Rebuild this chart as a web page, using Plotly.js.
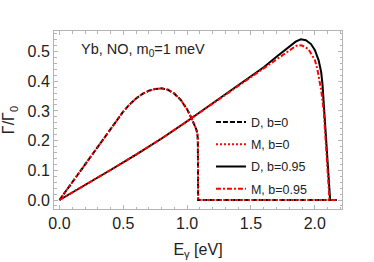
<!DOCTYPE html>
<html>
<head>
<meta charset="utf-8">
<script src="https://cdn.plot.ly/plotly-3.0.1.min.js"></script>
<style>html,body{margin:0;padding:0;background:#fff;}#chart{width:374px;height:262px;}</style>
</head>
<body>
<div id="chart"></div>
<script>
// b = 0 curves (D and M coincide)
const xB0 = [0, 0.05, 0.1, 0.2, 0.3, 0.4, 0.5, 0.55, 0.6, 0.65, 0.7, 0.75, 0.8, 0.85, 0.9, 0.95, 1.0, 1.03, 1.05, 1.07, 1.08, 1.084, 1.085, 1.086, 1.3, 1.5, 1.7, 1.9, 2.1, 2.17];
const yD_b0 = [0, 0.03, 0.06, 0.12, 0.18, 0.24, 0.298, 0.322, 0.342, 0.357, 0.368, 0.374, 0.376, 0.371, 0.358, 0.337, 0.305, 0.279, 0.26, 0.24, 0.225, 0.2, 0.1, 0, 0, 0, 0, 0, 0, 0];
const yM_b0 = [0, 0.03, 0.06, 0.12, 0.18, 0.24, 0.298, 0.322, 0.342, 0.357, 0.368, 0.374, 0.376, 0.371, 0.358, 0.337, 0.305, 0.279, 0.26, 0.24, 0.225, 0.2, 0.1, 0, 0, 0, 0, 0, 0, 0];

// b = 0.95 curves
const xD_b95 = [0, 0.2, 0.4, 0.6, 0.8, 1.0, 1.2, 1.4, 1.5, 1.6, 1.7, 1.75, 1.8, 1.85, 1.89, 1.93, 1.97, 2.0, 2.03, 2.05, 2.06, 2.07, 2.08, 2.09, 2.1, 2.11, 2.12, 2.17];
const yD_b95 = [0, 0.05, 0.101, 0.153, 0.207, 0.265, 0.325, 0.385, 0.415, 0.447, 0.482, 0.5, 0.518, 0.533, 0.541, 0.538, 0.525, 0.505, 0.47, 0.43, 0.39, 0.32, 0.26, 0.19, 0.12, 0.06, 0, 0];
const xM_b95 = [0, 0.2, 0.4, 0.6, 0.8, 1.0, 1.2, 1.4, 1.5, 1.6, 1.7, 1.75, 1.8, 1.85, 1.87, 1.9, 1.95, 1.97, 2.0, 2.02, 2.05, 2.07, 2.08, 2.09, 2.1, 2.11, 2.115, 2.17];
const yM_b95 = [0, 0.05, 0.101, 0.153, 0.207, 0.265, 0.325, 0.384, 0.413, 0.444, 0.476, 0.491, 0.506, 0.518, 0.522, 0.52, 0.508, 0.495, 0.472, 0.44, 0.37, 0.3, 0.23, 0.15, 0.08, 0.02, 0, 0];

const legendNames = ['D, b=0', 'M, b=0', 'D, b=0.95', 'M, b=0.95'];
const xTicks = [0, 0.5, 1.0, 1.5, 2.0];
const xTickText = ['0.0', '0.5', '1.0', '1.5', '2.0'];
const yTicks = [0, 0.1, 0.2, 0.3, 0.4, 0.5];
const yTickText = ['0.0', '0.1', '0.2', '0.3', '0.4', '0.5'];

const FONT = 'Liberation Sans, Arial, sans-serif';
const frame = '#b4b4b4';

const traces = [
  {x: xB0, y: yD_b0, name: legendNames[0], legendgroup: 'g1', mode: 'lines', line: {color: '#000', width: 2, dash: '5px,2px'}},
  {x: xB0, y: yM_b0, name: legendNames[1], legendgroup: 'g2', mode: 'lines', line: {color: '#ff0000', width: 2, dash: '2px,2px'}},
  {x: xD_b95, y: yD_b95, name: legendNames[2], legendgroup: 'g3', mode: 'lines', line: {color: '#000', width: 2}},
  {x: xM_b95, y: yM_b95, name: legendNames[3], legendgroup: 'g4', mode: 'lines', line: {color: '#ff0000', width: 2, dash: '5px,2px,2px,2px'}}
];

const axisCommon = {
  showline: true, linecolor: frame, linewidth: 1, mirror: 'allticks',
  ticks: 'inside', ticklen: 4, tickcolor: frame, tickwidth: 1,
  showgrid: false, zeroline: false,
  tickfont: {family: FONT, size: 16, color: '#222'}
};

const layout = {
  width: 374, height: 262,
  margin: {l: 54, r: 32, t: 31, b: 53},
  paper_bgcolor: '#fff', plot_bgcolor: '#fff',
  showlegend: true,
  legend: {x: 0.545, y: 0.571, xanchor: 'left', yanchor: 'top', bgcolor: 'rgba(0,0,0,0)',
           font: {family: FONT, size: 12.5, color: '#222'}, tracegroupgap: 3, itemwidth: 30},
  xaxis: Object.assign({}, axisCommon, {
    range: [-0.043, 2.213], tickvals: xTicks, ticktext: xTickText,
    minor: {dtick: 0.1, tick0: 0, ticklen: 2.5, tickcolor: frame, ticks: 'inside', showgrid: false},
    title: {text: 'E<sub>γ</sub> [eV]', font: {family: FONT, size: 16, color: '#222'}, standoff: 12}
  }),
  yaxis: Object.assign({}, axisCommon, {
    range: [-0.0303, 0.569], tickvals: yTicks, ticktext: yTickText,
    minor: {dtick: 0.02, tick0: 0, ticklen: 2.5, tickcolor: frame, ticks: 'inside', showgrid: false},
    title: {text: 'Γ/Γ<sub>0</sub>', font: {family: FONT, size: 16, color: '#222'}, standoff: 8}
  }),
  annotations: [{
    xref: 'paper', yref: 'paper', x: 0.087, y: 0.893, xanchor: 'left', yanchor: 'middle',
    text: 'Yb, NO, m<sub>0</sub>=1 meV', showarrow: false,
    font: {family: FONT, size: 14.5, color: '#222'}
  }]
};

Plotly.newPlot('chart', traces, layout, {staticPlot: true, displayModeBar: false});
</script>
</body>
</html>
